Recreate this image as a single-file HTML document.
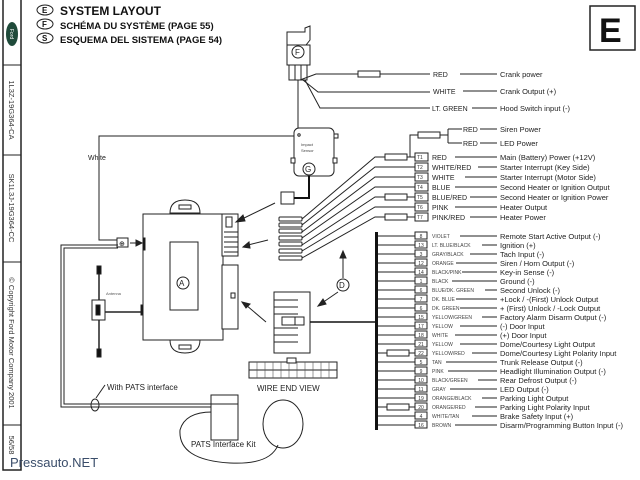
<!DOCTYPE html>
<html><head><meta charset="utf-8"><style>
html,body{margin:0;padding:0;background:#fff;}
svg{display:block;font-family:"Liberation Sans",sans-serif;}
.t{font-size:7px;fill:#222;}
.s{font-size:5px;fill:#333;}
.d{font-size:7.5px;fill:#222;}
</style></head><body>
<svg width="640" height="480" viewBox="0 0 640 480" xmlns="http://www.w3.org/2000/svg">
<g stroke="#222" fill="none" stroke-width="1">
<rect x="3" y="-2" width="18" height="472" stroke-width="1.5"/>
<line x1="3" y1="65" x2="21" y2="65"/>
<line x1="3" y1="155" x2="21" y2="155"/>
<line x1="3" y1="262" x2="21" y2="262"/>
<line x1="3" y1="425" x2="21" y2="425"/>
<rect x="590" y="6" width="45" height="44" stroke-width="1.5"/>
<ellipse cx="45" cy="10" rx="8" ry="5"/>
<ellipse cx="45" cy="24" rx="8" ry="5"/>
<ellipse cx="45" cy="38" rx="8" ry="5"/>
</g>
<ellipse cx="12" cy="34" rx="6" ry="12" fill="#1f4a3a"/>
<text x="12" y="36" font-size="5" fill="#fff" text-anchor="middle" transform="rotate(90 12 34)">Ford</text>
<g font-size="7.5" fill="#333" text-anchor="middle">
<text transform="translate(9,110) rotate(90)">1L3Z-19G364-CA</text>
<text transform="translate(9,208) rotate(90)">SK1L3J-19G364-CC</text>
<text transform="translate(9,343) rotate(90)">© Copyright Ford Motor Company 2001</text>
<text transform="translate(9,445) rotate(90)">56/58</text>
</g>
<g font-weight="bold" fill="#111">
<text x="42" y="13" font-size="8">E</text><text x="42" y="27" font-size="8">F</text><text x="42" y="41" font-size="8">S</text>
<text x="60" y="15" font-size="12">SYSTEM  LAYOUT</text>
<text x="60" y="29" font-size="9.5">SCHÉMA DU SYSTÈME (PAGE 55)</text>
<text x="60" y="43" font-size="9.5">ESQUEMA DEL SISTEMA (PAGE 54)</text>
<text x="599" y="42" font-size="34">E</text>
</g>

<g stroke="#222" fill="#fff" stroke-width="1">
<path d="M305 28 L310 26 L310 40 L306 45 L287 45 L287 32 L305 32 Z"/>
<rect x="287" y="45" width="23" height="20"/>
<rect x="289" y="65" width="6" height="15"/><rect x="295" y="65" width="6" height="15"/><rect x="301" y="65" width="6" height="15"/>
<circle cx="298" cy="52" r="6"/>
</g>
<text x="295" y="55" font-size="8" fill="#222">F</text>
<g stroke="#222" fill="none" stroke-width="1">
<path d="M303 80 L318 92 L430 92"/>
<path d="M300 80 L316 74 L430 74"/>
<path d="M305 80 L320 108 L430 108"/>
<path d="M298 80 L298 136 L99 136 L99 240 L118 240"/>
<line x1="460" y1="74" x2="497" y2="74"/><line x1="463" y1="91" x2="497" y2="91"/><line x1="472" y1="108" x2="497" y2="108"/>
</g>
<rect x="358" y="71" width="22" height="6" fill="#fff" stroke="#222"/>
<text class="t" x="433" y="77">RED</text>
<text class="t" x="433" y="94">WHITE</text>
<text class="t" x="432" y="111">LT. GREEN</text>
<text class="d" x="500" y="77">Crank power</text>
<text class="d" x="500" y="94">Crank Output (+)</text>
<text class="d" x="500" y="111">Hood Switch input (-)</text>
<text class="t" x="88" y="160" font-size="8">White</text>

<g stroke="#222" fill="none">
<path d="M400 157 L410 157 L410 135 L418 135"/>
<path d="M440 135 L448 135 M448 129 L448 143 M448 129 L462 129 M448 143 L462 143"/>
<line x1="480" y1="129" x2="497" y2="129"/><line x1="480" y1="143" x2="497" y2="143"/>
</g>
<rect x="418" y="132" width="22" height="6" fill="#fff" stroke="#222"/>
<text class="t" x="463" y="132">RED</text><text class="t" x="463" y="146">RED</text>
<text class="d" x="500" y="132">Siren Power</text><text class="d" x="500" y="146">LED Power</text>

<g stroke="#222" fill="none">
<path d="M302 219 L375 157 L415 157"/>
<path d="M302 225 L375 167 L415 167"/>
<path d="M302 232 L375 177 L415 177"/>
<path d="M302 238 L375 187 L415 187"/>
<path d="M302 245 L375 197 L415 197"/>
<path d="M302 251 L375 207 L415 207"/>
<path d="M302 258 L375 217 L415 217"/>
</g>
<rect x="385" y="154" width="22" height="6" fill="#fff" stroke="#222"/>
<rect x="385" y="194" width="22" height="6" fill="#fff" stroke="#222"/>
<rect x="385" y="214" width="22" height="6" fill="#fff" stroke="#222"/>
<g stroke="#222" fill="#fff">
<rect x="415" y="153" width="13" height="8"/><rect x="415" y="163" width="13" height="8"/><rect x="415" y="173" width="13" height="8"/><rect x="415" y="183" width="13" height="8"/><rect x="415" y="193" width="13" height="8"/><rect x="415" y="203" width="13" height="8"/><rect x="415" y="213" width="13" height="8"/>
</g>
<g class="s" font-size="6">
<text x="417" y="159">T1</text><text x="417" y="169">T2</text><text x="417" y="179">T3</text><text x="417" y="189">T4</text><text x="417" y="199">T5</text><text x="417" y="209">T6</text><text x="417" y="219">T7</text>
</g>
<g class="t">
<text x="432" y="160">RED</text><text x="432" y="170">WHITE/RED</text><text x="432" y="180">WHITE</text><text x="432" y="190">BLUE</text><text x="432" y="200">BLUE/RED</text><text x="432" y="210">PINK</text><text x="432" y="220">PINK/RED</text>
</g>
<g stroke="#222"><line x1="455" y1="157" x2="497" y2="157"/><line x1="478" y1="167" x2="497" y2="167"/><line x1="465" y1="177" x2="497" y2="177"/><line x1="455" y1="187" x2="497" y2="187"/><line x1="470" y1="197" x2="497" y2="197"/><line x1="455" y1="207" x2="497" y2="207"/><line x1="470" y1="217" x2="497" y2="217"/></g>
<g class="d">
<text x="500" y="160">Main (Battery) Power (+12V)</text>
<text x="500" y="170">Starter Interrupt (Key Side)</text>
<text x="500" y="180">Starter Interrupt (Motor Side)</text>
<text x="500" y="190">Second Heater or Ignition Output</text>
<text x="500" y="200">Second Heater or Ignition Power</text>
<text x="500" y="210">Heater Output</text>
<text x="500" y="220">Heater Power</text>
</g>

<rect x="375" y="232" width="3" height="198" fill="#111"/>
<g stroke="#222">
<line x1="378" y1="236" x2="415" y2="236"/><line x1="378" y1="245" x2="415" y2="245"/><line x1="378" y1="254" x2="415" y2="254"/><line x1="378" y1="263" x2="415" y2="263"/><line x1="378" y1="272" x2="415" y2="272"/><line x1="378" y1="281" x2="415" y2="281"/><line x1="378" y1="290" x2="415" y2="290"/><line x1="378" y1="299" x2="415" y2="299"/><line x1="378" y1="308" x2="415" y2="308"/><line x1="378" y1="317" x2="415" y2="317"/><line x1="378" y1="326" x2="415" y2="326"/><line x1="378" y1="335" x2="415" y2="335"/><line x1="378" y1="344" x2="415" y2="344"/><line x1="378" y1="353" x2="415" y2="353"/><line x1="378" y1="362" x2="415" y2="362"/><line x1="378" y1="371" x2="415" y2="371"/><line x1="378" y1="380" x2="415" y2="380"/><line x1="378" y1="389" x2="415" y2="389"/><line x1="378" y1="398" x2="415" y2="398"/><line x1="378" y1="407" x2="415" y2="407"/><line x1="378" y1="416" x2="415" y2="416"/><line x1="378" y1="425" x2="415" y2="425"/>
</g>
<rect x="387" y="350" width="22" height="6" fill="#fff" stroke="#222"/>
<rect x="387" y="404" width="22" height="6" fill="#fff" stroke="#222"/>
<g stroke="#222" fill="#fff">
<rect x="415" y="232" width="12" height="7"/><rect x="415" y="241" width="12" height="7"/><rect x="415" y="250" width="12" height="7"/><rect x="415" y="259" width="12" height="7"/><rect x="415" y="268" width="12" height="7"/><rect x="415" y="277" width="12" height="7"/><rect x="415" y="286" width="12" height="7"/><rect x="415" y="295" width="12" height="7"/><rect x="415" y="304" width="12" height="7"/><rect x="415" y="313" width="12" height="7"/><rect x="415" y="322" width="12" height="7"/><rect x="415" y="331" width="12" height="7"/><rect x="415" y="340" width="12" height="7"/><rect x="415" y="349" width="12" height="7"/><rect x="415" y="358" width="12" height="7"/><rect x="415" y="367" width="12" height="7"/><rect x="415" y="376" width="12" height="7"/><rect x="415" y="385" width="12" height="7"/><rect x="415" y="394" width="12" height="7"/><rect x="415" y="403" width="12" height="7"/><rect x="415" y="412" width="12" height="7"/><rect x="415" y="421" width="12" height="7"/>
</g>
<g font-size="5" fill="#333" text-anchor="middle">
<text x="421" y="238">8</text><text x="421" y="247">13</text><text x="421" y="256">3</text><text x="421" y="265">12</text><text x="421" y="274">14</text><text x="421" y="283">1</text><text x="421" y="292">6</text><text x="421" y="301">7</text><text x="421" y="310">6</text><text x="421" y="319">15</text><text x="421" y="328">17</text><text x="421" y="337">18</text><text x="421" y="346">21</text><text x="421" y="355">22</text><text x="421" y="364">5</text><text x="421" y="373">9</text><text x="421" y="382">10</text><text x="421" y="391">11</text><text x="421" y="400">19</text><text x="421" y="409">20</text><text x="421" y="418">4</text><text x="421" y="427">16</text>
</g>
<g font-size="5" fill="#444">
<text x="432" y="238">VIOLET</text><text x="432" y="247">LT. BLUE/BLACK</text><text x="432" y="256">GRAY/BLACK</text><text x="432" y="265">ORANGE</text><text x="432" y="274">BLACK/PINK</text><text x="432" y="283">BLACK</text><text x="432" y="292">BLUE/DK. GREEN</text><text x="432" y="301">DK. BLUE</text><text x="432" y="310">DK. GREEN</text><text x="432" y="319">YELLOW/GREEN</text><text x="432" y="328">YELLOW</text><text x="432" y="337">WHITE</text><text x="432" y="346">YELLOW</text><text x="432" y="355">YELLOW/RED</text><text x="432" y="364">TAN</text><text x="432" y="373">PINK</text><text x="432" y="382">BLACK/GREEN</text><text x="432" y="391">GRAY</text><text x="432" y="400">ORANGE/BLACK</text><text x="432" y="409">ORANGE/RED</text><text x="432" y="418">WHITE/TAN</text><text x="432" y="427">BROWN</text>
</g>
<g stroke="#222">
<line x1="460" y1="236" x2="497" y2="236"/><line x1="482" y1="245" x2="497" y2="245"/><line x1="470" y1="254" x2="497" y2="254"/><line x1="456" y1="263" x2="497" y2="263"/><line x1="462" y1="272" x2="497" y2="272"/><line x1="452" y1="281" x2="497" y2="281"/><line x1="485" y1="290" x2="497" y2="290"/><line x1="456" y1="299" x2="497" y2="299"/><line x1="460" y1="308" x2="497" y2="308"/><line x1="482" y1="317" x2="497" y2="317"/><line x1="460" y1="326" x2="497" y2="326"/><line x1="455" y1="335" x2="497" y2="335"/><line x1="460" y1="344" x2="497" y2="344"/><line x1="472" y1="353" x2="497" y2="353"/><line x1="446" y1="362" x2="497" y2="362"/><line x1="448" y1="371" x2="497" y2="371"/><line x1="478" y1="380" x2="497" y2="380"/><line x1="450" y1="389" x2="497" y2="389"/><line x1="482" y1="398" x2="497" y2="398"/><line x1="475" y1="407" x2="497" y2="407"/><line x1="472" y1="416" x2="497" y2="416"/><line x1="455" y1="425" x2="497" y2="425"/>
</g>
<g class="d">
<text x="500" y="239">Remote Start Active Output (-)</text>
<text x="500" y="248">Ignition (+)</text>
<text x="500" y="257">Tach Input (-)</text>
<text x="500" y="266">Siren / Horn Output (-)</text>
<text x="500" y="275">Key-in Sense (-)</text>
<text x="500" y="284">Ground (-)</text>
<text x="500" y="293">Second Unlock (-)</text>
<text x="500" y="302">+Lock / -(First) Unlock Output</text>
<text x="500" y="311">+ (First) Unlock / -Lock Output</text>
<text x="500" y="320">Factory Alarm Disarm Output (-)</text>
<text x="500" y="329">(-) Door Input</text>
<text x="500" y="338">(+) Door Input</text>
<text x="500" y="347">Dome/Courtesy Light Output</text>
<text x="500" y="356">Dome/Courtesy Light Polarity Input</text>
<text x="500" y="365">Trunk Release Output (-)</text>
<text x="500" y="374">Headlight Illumination Output (-)</text>
<text x="500" y="383">Rear Defrost Output (-)</text>
<text x="500" y="392">LED Output (-)</text>
<text x="500" y="401">Parking Light Output</text>
<text x="500" y="410">Parking Light Polarity Input</text>
<text x="500" y="419">Brake Safety Input (+)</text>
<text x="500" y="428">Disarm/Programming Button Input (-)</text>
</g>

<g stroke="#222" fill="#fff">
<rect x="294" y="128" width="40" height="48" rx="5"/>
<rect x="334" y="134" width="4" height="4"/>
<rect x="291" y="158" width="4" height="5"/><rect x="333" y="158" width="4" height="5"/>
<circle cx="309" cy="169" r="6"/>
<rect x="281" y="192" width="13" height="12"/>
</g>
<circle cx="299" cy="135" r="1.2" fill="none" stroke="#222"/>
<text x="301" y="146" font-size="4" fill="#444">Impact</text><text x="301" y="152" font-size="4" fill="#444">Sensor</text>
<text x="305" y="172" font-size="8" fill="#222">G</text>
<path d="M294 198 L309 198 L309 176" stroke="#111" stroke-width="2" fill="none"/>

<g stroke="#222" fill="#fff">
<rect x="279" y="217" width="23" height="4" rx="1"/><rect x="279" y="223" width="23" height="4" rx="1"/><rect x="279" y="229" width="23" height="4" rx="1"/><rect x="279" y="236" width="23" height="4" rx="1"/><rect x="279" y="242" width="23" height="4" rx="1"/><rect x="279" y="249" width="23" height="4" rx="1"/><rect x="279" y="256" width="23" height="4" rx="1"/>
</g>

<g stroke="#222" fill="#fff">
<path d="M170 213 Q170 200 185 200 Q200 200 200 213 Z"/>
<rect x="179" y="205" width="12" height="4"/>
<path d="M170 340 Q170 353 185 353 Q200 353 200 340 Z"/>
<rect x="179" y="345" width="12" height="4"/>
<rect x="143" y="214" width="80" height="126"/>
<rect x="170" y="242" width="28" height="68"/>
<circle cx="183" cy="283" r="6"/>
<rect x="222" y="214" width="16" height="42"/>
<rect x="226" y="217" width="6" height="10"/>
<rect x="222" y="265" width="16" height="64"/>
<rect x="231" y="293" width="4" height="5"/>
<rect x="143" y="238" width="2" height="12" fill="#111"/>
<rect x="141" y="305" width="2" height="10" fill="#111"/>
</g>
<g stroke="#222">
<line x1="224" y1="232" x2="238" y2="232"/><line x1="224" y1="237" x2="238" y2="237"/><line x1="224" y1="242" x2="238" y2="242"/><line x1="224" y1="247" x2="238" y2="247"/><line x1="224" y1="252" x2="238" y2="252"/>
</g>
<text x="179" y="286" font-size="8" fill="#222">A</text>
<g stroke="#222" fill="#222">
<line x1="275" y1="203" x2="240" y2="220"/><polygon points="236,222 243,215 245,221"/>
<line x1="268" y1="240" x2="248" y2="245"/><polygon points="243,247 249,242 250,248"/>
<line x1="266" y1="322" x2="246" y2="305"/><polygon points="242,302 250,304 246,308"/>
<line x1="338" y1="292" x2="322" y2="303"/><polygon points="318,306 323,299 326,304"/>
<line x1="343" y1="278" x2="343" y2="256"/><polygon points="343,251 340,258 346,258"/>
<line x1="130" y1="243" x2="137" y2="243"/><polygon points="142,243 136,240 136,246"/>
</g>
<circle cx="343" cy="285" r="6" fill="#fff" stroke="#222"/>
<text x="339" y="288" font-size="8" fill="#222">D</text>
<rect x="117" y="238" width="11" height="9" fill="#fff" stroke="#222"/>
<text x="119" y="246" font-size="7">⊕</text>
<g stroke="#222">
<line x1="99" y1="268" x2="99" y2="355" stroke-width="1.5"/>
<rect x="97" y="266" width="4" height="8" fill="#111"/><rect x="97" y="349" width="4" height="8" fill="#111"/>
<rect x="92" y="300" width="13" height="20" fill="#fff"/>
<rect x="96" y="305" width="4" height="10" fill="#111"/>
<line x1="105" y1="312" x2="141" y2="312" stroke-width="1.5"/>
</g>
<text x="106" y="295" font-size="4" fill="#555">Antenna</text>
<g stroke="#222" fill="none">
<path d="M118 245 L61 245 L61 407 L212 407"/>
<path d="M118 248 L64 248 L64 404 L212 404"/>
<ellipse cx="95" cy="405" rx="4" ry="6"/>
<path d="M96 398 L105 385"/>
<path d="M212 412 Q185 412 180 430 Q178 460 230 463 Q270 465 278 445"/>
<ellipse cx="283" cy="424" rx="20" ry="24"/>
</g>
<rect x="211" y="395" width="27" height="45" fill="#fff" stroke="#222"/>
<line x1="211" y1="404" x2="238" y2="404" stroke="#222"/>
<text x="107" y="390" font-size="8" fill="#222">With PATS interface</text>
<text x="191" y="447" font-size="8" fill="#222">PATS Interface Kit</text>
<g stroke="#222" fill="#fff">
<rect x="274" y="292" width="36" height="61"/>
<line x1="274" y1="300" x2="298" y2="300"/><line x1="274" y1="307" x2="298" y2="307"/><line x1="274" y1="314" x2="298" y2="314"/><line x1="274" y1="328" x2="298" y2="328"/><line x1="274" y1="335" x2="298" y2="335"/><line x1="274" y1="342" x2="298" y2="342"/>
<rect x="282" y="317" width="22" height="8"/>
<rect x="295" y="317" width="9" height="8"/>
<rect x="249" y="362" width="88" height="16"/>
<rect x="287" y="358" width="9" height="5"/>
<line x1="249" y1="370" x2="337" y2="370"/>
</g>
<line x1="310" y1="322" x2="376" y2="322" stroke="#111" stroke-width="1.5"/>
<g stroke="#555" stroke-width="0.6">
<line x1="257" y1="362" x2="257" y2="378"/><line x1="265" y1="362" x2="265" y2="378"/><line x1="273" y1="362" x2="273" y2="378"/><line x1="281" y1="362" x2="281" y2="378"/><line x1="289" y1="362" x2="289" y2="378"/><line x1="297" y1="362" x2="297" y2="378"/><line x1="305" y1="362" x2="305" y2="378"/><line x1="313" y1="362" x2="313" y2="378"/><line x1="321" y1="362" x2="321" y2="378"/><line x1="329" y1="362" x2="329" y2="378"/>
</g>
<text x="257" y="391" font-size="8" fill="#222">WIRE END VIEW</text>
<text x="10" y="467" font-size="13" fill="#3a4d6a">Pressauto.NET</text>
</svg>
</body></html>
